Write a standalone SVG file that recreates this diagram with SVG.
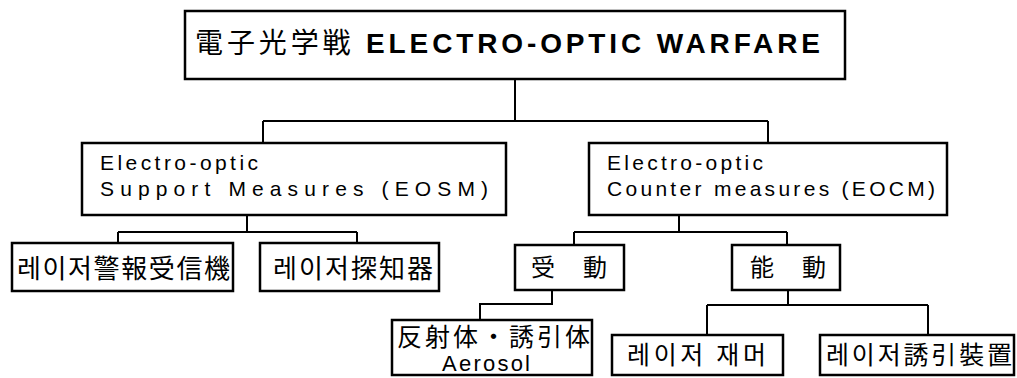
<svg xmlns="http://www.w3.org/2000/svg" width="1017" height="378" viewBox="0 0 1017 378">
<style>
.box{fill:#fff;stroke:#000;stroke-width:2.5}
.con{fill:none;stroke:#000;stroke-width:2}
.lat{font-family:'Liberation Sans','Noto Sans CJK JP',sans-serif;fill:#000}
.cjk{font-family:'Noto Sans CJK JP','Liberation Sans',sans-serif;fill:#000}
.kr{font-family:'Noto Sans CJK KR','Liberation Sans',sans-serif;fill:#000}
</style>
<rect width="1017" height="378" fill="#fff"/>
<g id="connectors">
<path class="con" d="M515,79 V121 M263,121 H768 M263,121 V143 M768,121 V143"/>
<path class="con" d="M247,215 V232 M118,232 H357 M118,232 V243 M357,232 V243"/>
<path class="con" d="M679,215 V232 M574,232 H787 M574,232 V245 M787,232 V245"/>
<path class="con" d="M552,290 V304 H480 V320"/>
<path class="con" d="M788,290 V305 M707,305 H928 M707,305 V335 M928,305 V335"/>
</g>
<g id="eow">
<rect class="box" x="185" y="11" width="660" height="68"/>
<text class="lat" x="195" y="53" font-size="28" textLength="625" lengthAdjust="spacing"><tspan class="cjk">電子光学戦</tspan> <tspan font-weight="bold">ELECTRO-OPTIC WARFARE</tspan></text>
</g>
<g id="eosm">
<rect class="box" x="82" y="143" width="424" height="72"/>
<text class="lat" x="100" y="170" font-size="21" textLength="158" lengthAdjust="spacing">Electro-optic</text>
<text class="lat" x="100" y="196" font-size="21" textLength="388" lengthAdjust="spacing">Support  Measures (EOSM)</text>
</g>
<g id="eocm">
<rect class="box" x="589" y="143" width="358" height="72"/>
<text class="lat" x="607" y="170" font-size="21" textLength="156" lengthAdjust="spacing">Electro-optic</text>
<text class="lat" x="607" y="196" font-size="21" textLength="328" lengthAdjust="spacing">Counter  measures (EOCM)</text>
</g>
<g id="lwr">
<rect class="box" x="12" y="243" width="221" height="48"/>
<text class="kr" x="17" y="278" font-size="26" textLength="213" lengthAdjust="spacing">레이저警報受信機</text>
</g>
<g id="ld">
<rect class="box" x="260" y="243" width="179" height="48"/>
<text class="kr" x="273" y="278" font-size="26" textLength="160" lengthAdjust="spacing">레이저探知器</text>
</g>
<g id="passive">
<rect class="box" x="515" y="245" width="109" height="45"/>
<text class="cjk" x="531 557 583" y="276" font-size="24">受 動</text>
</g>
<g id="active">
<rect class="box" x="732" y="245" width="108" height="45"/>
<text class="cjk" x="750 776 802" y="276" font-size="24">能 動</text>
</g>
<g id="aerosol">
<rect class="box" x="392" y="320" width="200" height="55"/>
<text class="cjk" x="397" y="346" font-size="25" textLength="193" lengthAdjust="spacing">反射体・誘引体</text>
<text class="lat" x="442" y="371" font-size="22" textLength="88" lengthAdjust="spacing">Aerosol</text>
</g>
<g id="jammer">
<rect class="box" x="612" y="335" width="171" height="40"/>
<text class="kr" x="627" y="364" font-size="25" textLength="139" lengthAdjust="spacing">레이저 재머</text>
</g>
<g id="decoy">
<rect class="box" x="820" y="335" width="194" height="40"/>
<text class="kr" x="826" y="364" font-size="25" textLength="186" lengthAdjust="spacing">레이저誘引裝置</text>
</g>
</svg>
